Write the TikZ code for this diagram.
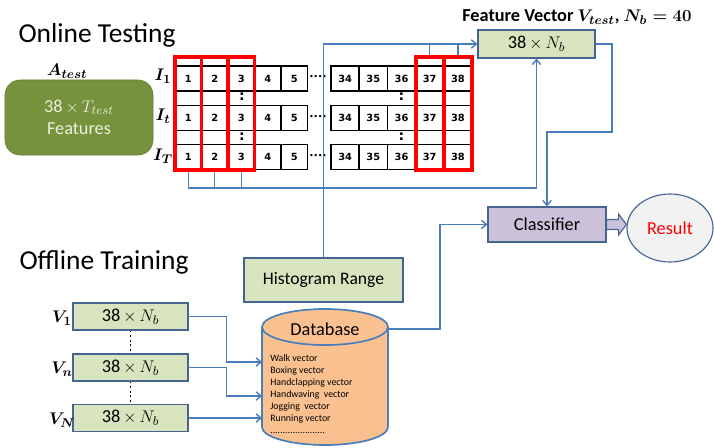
\documentclass[tikz,border=0pt]{standalone}
\usepackage{amsmath}
\usepackage{fontspec}
\setmainfont{Carlito}
\newfontfamily\cellfont{DejaVu Sans}
\usetikzlibrary{arrows.meta,calc,shapes.geometric}

\definecolor{linkblue}{RGB}{74,126,187}
\definecolor{edgeblue}{RGB}{70,100,145}
\definecolor{lightgreen}{RGB}{215,228,189}
\definecolor{olive}{RGB}{118,146,60}
\definecolor{palegreen}{RGB}{235,241,222}
\definecolor{lavender}{RGB}{204,193,218}
\definecolor{peach}{RGB}{250,192,144}
\definecolor{resgray}{RGB}{242,242,242}

\begin{document}
\begin{tikzpicture}[x=0.025cm,y=-0.025cm,>={Straight Barb[length=3.5pt,width=6pt]}]
	\tikzstyle{cell}=[draw,line width=1.1pt,fill=white,minimum height=0.625cm,inner sep=0pt,font=\cellfont\fontsize{7}{8}\selectfont\bfseries]
	\tikzstyle{redcol}=[draw=red,line width=2.8pt,minimum height=2.825cm,inner sep=0pt]
	\tikzstyle{box}=[draw=edgeblue,line width=0.8pt,fill=lightgreen,inner sep=0pt,font=\fontsize{13}{15}\selectfont]
	\tikzstyle{link}=[draw=linkblue,line width=1pt]
	\tikzstyle{title}=[font=\fontsize{19.5}{22}\selectfont]
	\tikzstyle{lab}=[font=\fontsize{13}{15}\selectfont]
	
	\useasboundingbox (0,0) rectangle (714,447);
	
	\node[title](online) at (97,35){Online Testing};
	\node[title](offline) at (104,262){Offline Training};
	
	\node[lab](alab) at (67,71){$\boldsymbol{A_{test}}$};
	\node[draw=olive!85!black,fill=olive,rounded corners=0.375cm,minimum width=3.7cm,minimum height=1.875cm,
		text=palegreen,align=center,font=\fontsize{13}{16}\selectfont](feat) at (79,117.5){38\,$\times$\,$T_{test}$\\Features};
	
	\node[lab](i1) at (163,76){$\boldsymbol{I_1}$};
	\node[lab](it) at (163,116){$\boldsymbol{I_t}$};
	\node[lab](iT) at (163,156){$\boldsymbol{I_T}$};
	
	\foreach \r/\y in {1/78.5,2/118,3/157}{
		\foreach \c in {1,...,5}
			\node[cell,minimum width=0.6625cm](c\r-\c) at ({175+26.5*(\c-0.5)},\y){\c};
		\foreach \c [count=\i] in {34,...,38}
			\node[cell,minimum width=0.705cm](c\r-\c) at ({331+28.2*(\i-0.5)},\y){\c};
		\node[font=\cellfont\bfseries\fontsize{8}{8}\selectfont,inner sep=0pt](gap\r) at (318,\y){····};
	}
	
	\node[font=\cellfont\bfseries](d1) at (242,97){:};
	\node[font=\cellfont\bfseries](d2) at (242,137){:};
	\node[font=\cellfont\bfseries](d3) at (401.5,97){:};
	\node[font=\cellfont\bfseries](d4) at (401.5,137){:};
	
	\foreach \c in {1,2,3}
		\node[redcol,minimum width=0.6625cm](k\c) at ({175+26.5*(\c-0.5)},113.5){};
	\foreach \c/\i in {37/4,38/5}
		\node[redcol,minimum width=0.705cm](k\c) at ({331+28.2*(\i-0.5)},113.5){};
	
	\node[font=\fontsize{13}{15}\selectfont\bfseries](fvlab) at (577,17){Feature Vector $\boldsymbol{V_{test}}$, $\boldsymbol{N_b=40}$};
	\node[box,minimum width=2.925cm,minimum height=0.7cm](fv) at (536.5,44){38\,$\times$\,$N_b$};
	
	\node[box,font=\fontsize{12.5}{15}\selectfont,minimum width=3.975cm,minimum height=1.1cm](hist) at (323.5,280){Histogram Range};
	\node[box,fill=lavender,minimum width=2.95cm,minimum height=0.875cm](cls) at (547,224.5){Classifier};
	\node[draw=edgeblue,line width=0.8pt,fill=resgray,ellipse,minimum width=2.15cm,minimum height=1.7cm,inner sep=0pt,
		text=red,font=\fontsize{13}{15}\selectfont](res) at (670,228){Result};
	
	\coordinate(low) at (0,188);
	\coordinate(high) at (0,44);
	\draw[link,->] (k1.south) -- (k1.south |- low) -| (fv.south);
	\draw[link] (k2.south) -- (k2.south |- low);
	\draw[link] (k3.south) -- (k3.south |- low);
	\draw[link,->] (hist.north) -- (hist.north |- high) -- (fv.west);
	\draw[link] (k37.north) -- (k37.north |- high);
	\draw[link] (k38.north) -- (k38.north |- high);
	\coordinate(turn) at (612,132);
	\draw[link,->] (fv.east) -| (turn) -| (cls.north);
	
	\draw[draw=edgeblue,line width=0.8pt,fill=lavender] ($(cls.east)+(0,-5)$) -- ++(12,0) -- ++(0,-5.5) -- (cls.east -| res.west)
		-- ($(cls.east)+(12,10.5)$) -- ++(0,-5.5) -- ($(cls.east)+(0,5)$) -- cycle;
	
	% database
	\fill[peach,draw=linkblue,line width=1.2pt] (325,427) ellipse [x radius=63,y radius=18];
	\fill[peach] (262,327) rectangle (388,427);
	\draw[linkblue,line width=1.2pt] (262,327) -- (262,427) (388,327) -- (388,427);
	\fill[peach,draw=linkblue,line width=1.2pt] (325,327) ellipse [x radius=63,y radius=18];
	\node[font=\fontsize{13}{15}\selectfont](db) at (325,329){Database};
	\node[anchor=north west,align=left,inner sep=0pt,font=\fontsize{7}{8.6}\selectfont](dblist) at (270,354){Walk vector\\Boxing vector\\Handclapping vector\\Handwaving\ \ vector\\Jogging\ \ vector\\Running vector\\......................};
	\coordinate(dbout) at (388,329);
	\coordinate(mid) at (440,0);
	\draw[link,->] (dbout) -- (dbout -| mid) |- (cls.west);
	
	\node[box,minimum width=2.875cm,minimum height=0.675cm](v1) at (130.5,316.5){38\,$\times$\,$N_b$};
	\node[box,minimum width=2.875cm,minimum height=0.675cm](vn) at (130.5,367.5){38\,$\times$\,$N_b$};
	\node[box,minimum width=2.875cm,minimum height=0.675cm](vN) at (130.5,418){38\,$\times$\,$N_b$};
	\node[lab](v1lab) at (62,318){$\boldsymbol{V_1}$};
	\node[lab](vnlab) at (62,369){$\boldsymbol{V_n}$};
	\node[lab](vNlab) at (62,420){$\boldsymbol{V_N}$};
	\draw[line width=1.3pt,dotted] (v1.south) -- (vn.north);
	\draw[line width=1.3pt,dotted] (vn.south) -- (vN.north);
	
	\coordinate(in1) at (262,362);
	\coordinate(in2) at (262,396);
	\coordinate(in3) at (262,418);
	\draw[link,->] (v1.east) -- ++(38,0) |- (in1);
	\draw[link,->] (vn.east) -- ++(38,0) |- (in2);
	\draw[link,->] (vN.east) -- (in3);
	
\end{tikzpicture}
\end{document}
